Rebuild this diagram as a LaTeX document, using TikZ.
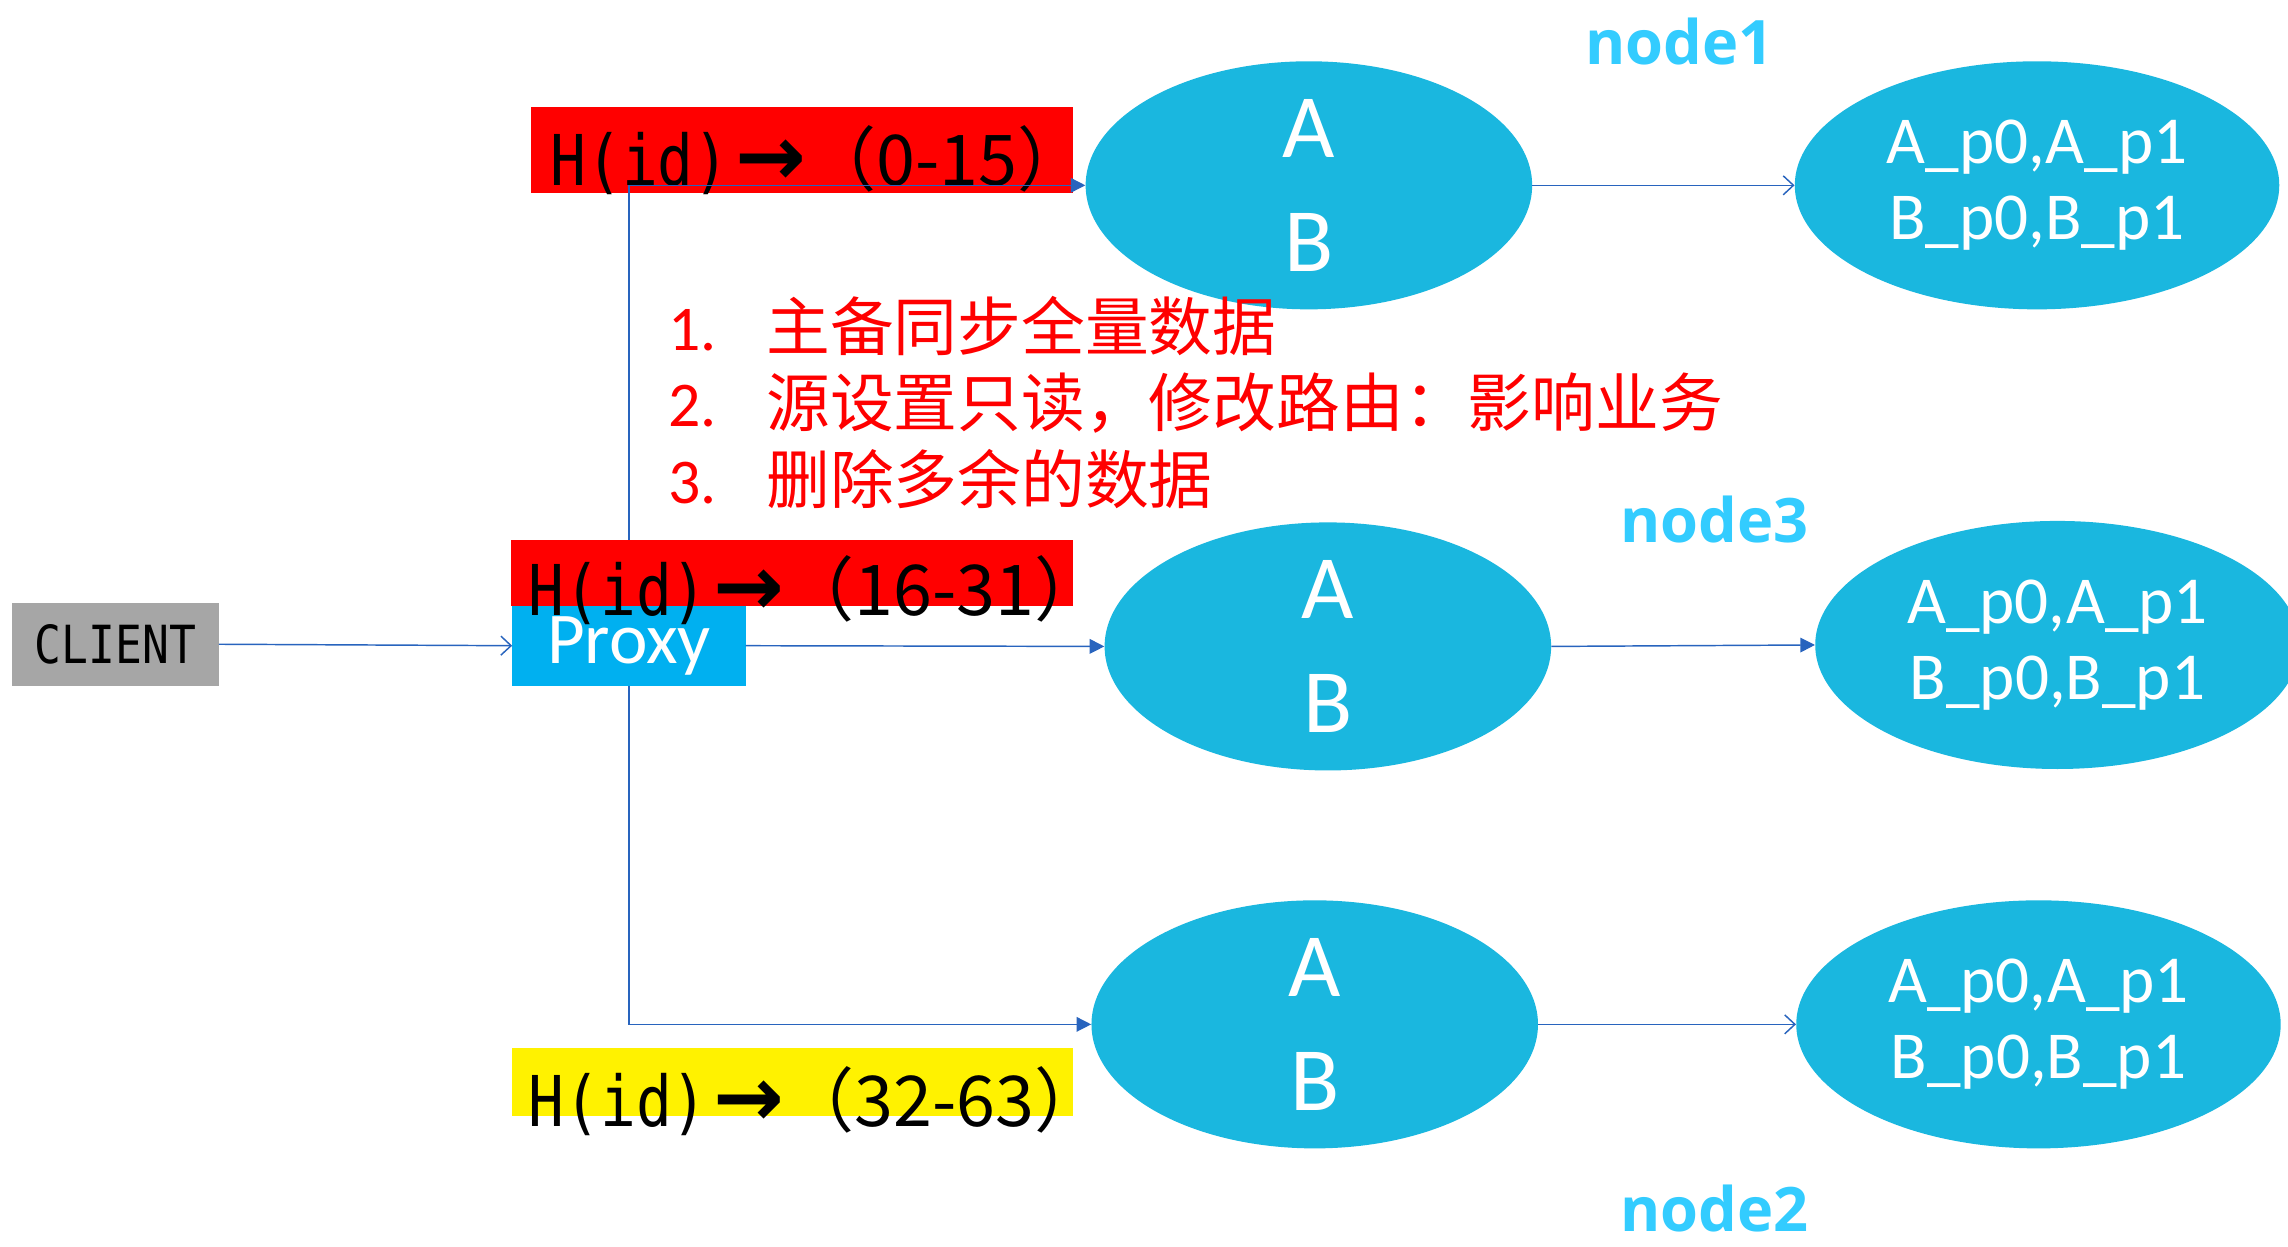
\documentclass[tikz,border=0pt]{standalone}
\usepackage{fontspec}
\setmainfont{Carlito}
\newfontfamily\cjk{Noto Sans CJK SC}
\newfontfamily\monof{DejaVu Sans Mono}[FakeStretch=0.85]
\newfontfamily\arrf{DejaVu Sans}
\newfontfamily\labf{Open Sans}
\usetikzlibrary{shapes.geometric,arrows.meta}
\definecolor{ellc}{RGB}{26,183,223}
\definecolor{proxyc}{RGB}{0,176,240}
\definecolor{labc}{RGB}{51,204,255}
\definecolor{grayc}{RGB}{166,166,166}
\definecolor{linec}{RGB}{40,100,190}
\newcommand{\hidtext}[1]{{\monof H(id)}\hspace{4pt}{\arrf\bfseries\fontsize{58}{58}\selectfont →}{\cjk （#1）}}
\begin{document}
\begin{tikzpicture}[x=1pt,y=-1pt,
  ell/.style={ellipse, fill=ellc, inner sep=0pt, text=white, align=center,
    minimum width=306pt, minimum height=170pt},
  rell/.style={ellipse, fill=ellc, inner sep=0pt, text=white, align=center,
    minimum width=332pt, minimum height=170pt,
    font=\fontsize{46}{55}\selectfont},
  abfont/.style={font=\fontsize{62}{78}\selectfont},
  bar/.style={inner sep=0pt, outer sep=0pt},
  hid/.style={inner sep=0pt, anchor=base west, font=\fontsize{48}{50}\selectfont},
  lab/.style={inner sep=0pt, anchor=base, text=labc, font=\labf\bfseries\fontsize{42}{44}\selectfont},
  conn/.style={draw=linec, line width=1pt},
  opentip/.style={-{Straight Barb[length=7pt,width=13pt]}},
  filltip/.style={-{Triangle[length=10pt,width=10pt]}}
]
\useasboundingbox[fill=white] (0,0) rectangle (1568,854);

% hash range box 1
\node[bar, fill=red, minimum width=371pt, minimum height=59pt] (r1) at (549.5,102.5) {};
\node[hid] (t1) at (377,127) {\hidtext{0-15}};

% ellipses
\node[ell, abfont] (e1) at (897,127) {A\\B};
\node[rell] (f1) at (1396,127) {\raisebox{-3pt}{A\_p0,A\_p1}\\B\_p0,B\_p1};
\node[ell, abfont] (e3) at (910,443) {A\\B};
\node[rell] (f3) at (1410,442) {\raisebox{-3pt}{A\_p0,A\_p1}\\B\_p0,B\_p1};
\node[ell, abfont] (e2) at (901,702) {A\\B};
\node[rell] (f2) at (1397,702) {\raisebox{-3pt}{A\_p0,A\_p1}\\B\_p0,B\_p1};

% client and proxy
\node[bar, fill=grayc, minimum width=142pt, minimum height=57pt,
  font=\monof\fontsize{36}{38}\selectfont] (client) at (79,441.5) {CLIENT};
\node[bar, fill=proxyc, minimum width=160pt, minimum height=55pt, text=white,
  font=\fontsize{50}{52}\selectfont] (proxy) at (431,442.5) {\raisebox{-5pt}{Proxy}};

% connectors
\draw[conn, opentip] (client.east) -- (proxy.west);
\draw[conn, filltip] (proxy.north) |- (e1.west);
\draw[conn, filltip] (proxy.east) -- (e3.west);
\draw[conn, filltip] (proxy.south) |- (e2.west);
\draw[conn, opentip] (e1.east) -- (f1.west);
\draw[conn, filltip] (e3.east) -- (f3.west);
\draw[conn, opentip] (e2.east) -- (f2.west);

% hash range box 2 (over the line)
\node[bar, fill=red, minimum width=385pt, minimum height=45pt] (r2) at (542.5,392.5) {};
\node[hid] (t2) at (362,422) {\hidtext{16-31}};

% hash range box 3
\node[bar, fill=yellow, minimum width=384pt, minimum height=47pt] (r3) at (543,741.5) {};
\node[hid] (t3) at (362,772) {\hidtext{32-63}};

% steps
\node[inner sep=0pt, anchor=base west, text=red, align=left,
  font=\fontsize{43.7}{52.5}\selectfont] (steps) at (458,345)
  {\makebox[67pt][l]{1.}{\cjk 主备同步全量数据}\\
   \makebox[67pt][l]{2.}{\cjk 源设置只读，修改路由：影响业务}\\
   \makebox[67pt][l]{3.}{\cjk 删除多余的数据}};

% node labels
\node[lab] (n1) at (1151,44) {node1};
\node[lab] (n3) at (1175,372) {node3};
\node[lab] (n2) at (1175,844) {node2};
\end{tikzpicture}
\end{document}
